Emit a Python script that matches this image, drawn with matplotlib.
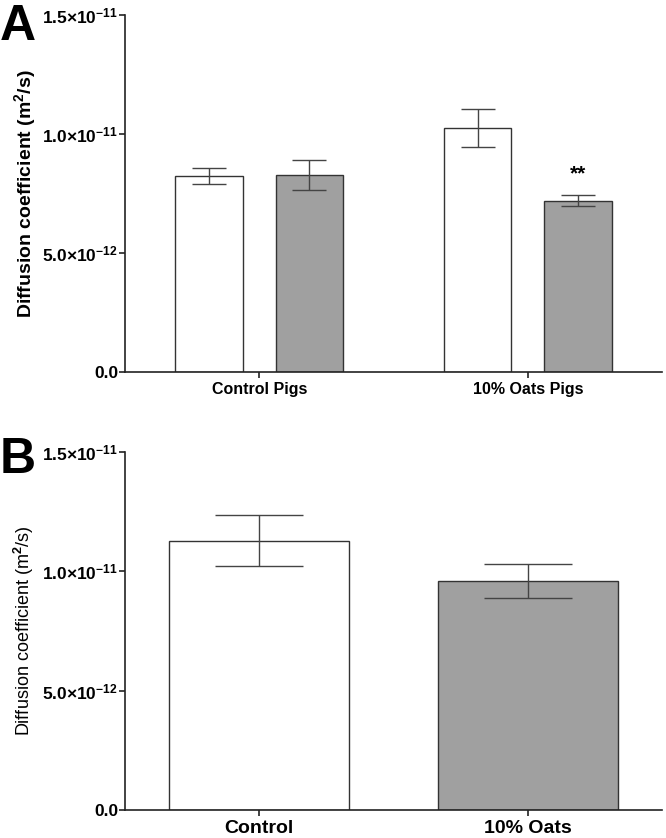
import numpy as np
import matplotlib.pyplot as plt
from matplotlib.ticker import FixedLocator

plt.rcParams["font.family"] = ["Liberation Sans", "DejaVu Sans"]
plt.rcParams["mathtext.fontset"] = "custom"
plt.rcParams["mathtext.rm"] = "Liberation Sans:bold"
plt.rcParams["mathtext.bf"] = "Liberation Sans:bold"
plt.rcParams["mathtext.it"] = "Liberation Sans:bold"

# panel A data (diffusion coefficient, m^2/s)
groups_a = ["Control Pigs", "10% Oats Pigs"]
white_a = [8.25e-12, 10.25e-12]
white_err_a = [0.33e-12, 0.81e-12]
grey_a = [8.29e-12, 7.20e-12]
grey_err_a = [0.62e-12, 0.22e-12]
stars_a = ["", "**"]

# panel B data
groups_b = ["Control", "10% Oats"]
values_b = [11.28e-12, 9.58e-12]
err_b = [1.05e-12, 0.70e-12]
colors_b = ["white", "#a0a0a0"]

yticks = [0.0, 5e-12, 1e-11, 1.5e-11]
ytick_labels = ["0.0", r"$5.0{\times}10^{-12}$", r"$1.0{\times}10^{-11}$", r"$1.5{\times}10^{-11}$"]

grey = "#a0a0a0"
edge = "#333333"


def style_axes(ax):
    for s in ["top", "right"]:
        ax.spines[s].set_visible(False)
    for s in ["left", "bottom"]:
        ax.spines[s].set_linewidth(1.2)
        ax.spines[s].set_color("#222222")
    ax.set_xlim(-0.5, 1.5)
    ax.set_ylim(0, 1.5e-11)
    ax.yaxis.set_major_locator(FixedLocator(yticks))
    ax.set_yticklabels(ytick_labels)
    ax.tick_params(axis="both", direction="out", length=4, width=1.2, color="#222222")
    for lab in ax.get_yticklabels():
        lab.set_fontweight("bold")
        lab.set_fontsize(12.5)
    ax.yaxis.set_tick_params(pad=1)


fig = plt.figure(figsize=(6.66, 8.38), dpi=100)

# ---- panel A
ax1 = fig.add_axes([0.1877, 0.556, 0.8063, 0.426])
x = np.arange(len(groups_a))
w = 0.25
off = 0.187
ax1.bar(x - off, white_a, w, color="white", edgecolor=edge, linewidth=1.0, zorder=2)
ax1.bar(x + off, grey_a, w, color=grey, edgecolor=edge, linewidth=1.0, zorder=2)
ax1.errorbar(x - off, white_a, yerr=white_err_a, fmt="none", ecolor="#444444",
             elinewidth=1.0, capsize=12, capthick=1.0, zorder=3)
ax1.errorbar(x + off, grey_a, yerr=grey_err_a, fmt="none", ecolor="#444444",
             elinewidth=1.0, capsize=12, capthick=1.0, zorder=3)
for i, s in enumerate(stars_a):
    if s:
        ax1.text(x[i] + off, grey_a[i] + grey_err_a[i] + 0.9e-12, s, ha="center",
                 va="center", fontsize=15, fontweight="bold")
style_axes(ax1)
ax1.set_xticks(x)
ax1.set_xticklabels(groups_a, fontsize=11.5, fontweight="bold")
ax1.set_ylabel("Diffusion coefficient (m$^{2}$/s)", fontsize=14, fontweight="bold", labelpad=3)
fig.text(0.0, 0.995, "A", fontsize=36, fontweight="bold", ha="left", va="top")

# ---- panel B
ax2 = fig.add_axes([0.1877, 0.0334, 0.8063, 0.4276])
xb = np.arange(len(groups_b))
ax2.bar(xb, values_b, 0.67, color=colors_b, edgecolor=edge, linewidth=1.0, zorder=2)
ax2.errorbar(xb, values_b, yerr=err_b, fmt="none", ecolor="#444444",
             elinewidth=1.0, capsize=32, capthick=1.0, zorder=3)
style_axes(ax2)
ax2.set_xticks(xb)
ax2.set_xticklabels(groups_b, fontsize=14, fontweight="bold")
ax2.set_ylabel("Diffusion coefficient (m$^{2}$/s)", fontsize=13, labelpad=4)
fig.text(0.0, 0.478, "B", fontsize=36, fontweight="bold", ha="left", va="top")

plt.savefig("out.png", dpi=100)
